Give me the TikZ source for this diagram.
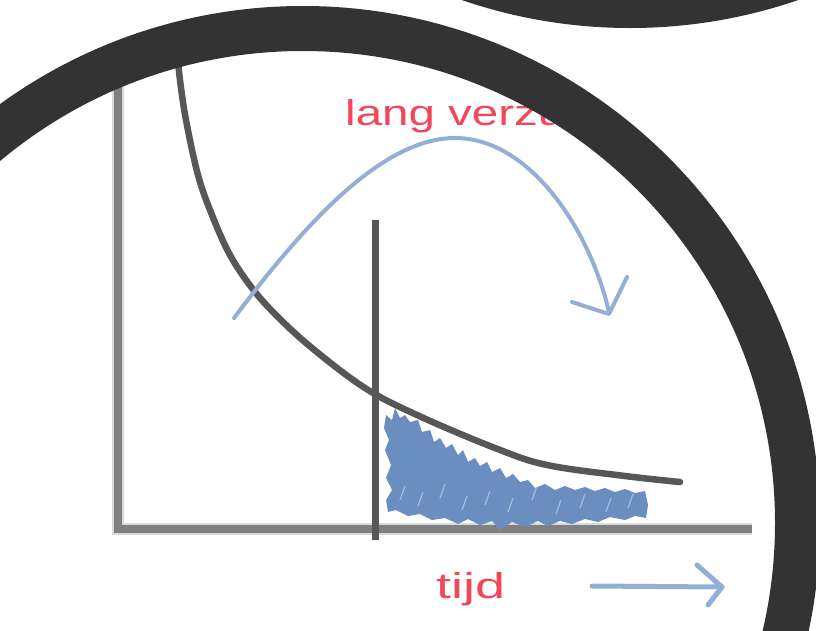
\documentclass[tikz,border=0pt]{standalone}
\usepackage{fontspec}
\usepackage{graphicx}
\newfontfamily\handfont{Liberation Sans}
\definecolor{ringc}{HTML}{333333}
\definecolor{axisc}{HTML}{808080}
\definecolor{curvec}{HTML}{575757}
\definecolor{scrib}{HTML}{6A8EC0}
\definecolor{arrowc}{HTML}{93AFD6}
\definecolor{textred}{HTML}{F04858}
\tikzset{
  ring/.style={draw=ringc, line width=45pt},
  axisline/.style={draw=axisc, line width=8pt},
  decay/.style={draw=curvec, line width=6.5pt, line cap=round},
  bluearrow/.style={draw=arrowc, line width=4pt, line cap=round, line join=round},
  redtext/.style={text=textred, inner sep=0pt, anchor=base west, font=\handfont\fontsize{36}{36}\selectfont}
}
\begin{document}
\begin{tikzpicture}[x=1pt,y=-1pt]
\useasboundingbox (0,0) rectangle (816,630);
\clip (0,0) rectangle (816,630);
% axes
\draw[draw=axisc!30, line width=12pt] (118,60) -- (118,529) -- (752,529);
\draw[axisline] (118,60) -- (118,529) -- (752,529);
% decay curve
\draw[decay] plot[smooth, tension=0.6] coordinates {(177,50) (180,80) (186,120) (198,175) (212,215) (230,255) (252,288) (276,315) (312,348) (365,388) (417,415) (495,448) (547,465) (625,476) (680,482)};
% vertical line
\draw[draw=curvec, line width=7pt] (375,220) -- (375,540);
% scribbled area
\fill[scrib] (384,428) -- (386,415) -- (392,420) -- (395,408) -- (400,418) -- (405,415) -- (410,422) -- (418,420) -- (422,432) -- (430,430) -- (434,442) -- (440,438) -- (446,448) -- (452,444) -- (458,455) -- (463,450) -- (468,462) -- (475,458) -- (480,466) -- (487,462) -- (492,472) -- (500,468) -- (506,478) -- (513,474) -- (520,482) -- (528,480) -- (535,488) -- (545,484) -- (555,490) -- (565,486) -- (575,490) -- (585,487) -- (595,491) -- (605,488) -- (615,492) -- (625,489) -- (635,493) -- (645,491) -- (648,505) -- (646,518) -- (635,516) -- (625,520) -- (610,517) -- (598,522) -- (585,519) -- (572,524) -- (560,521) -- (548,526) -- (538,521) -- (525,527) -- (512,522) -- (500,530) -- (492,521) -- (480,525) -- (468,519) -- (458,524) -- (445,518) -- (432,520) -- (420,514) -- (408,516) -- (396,510) -- (388,512) -- (386,500) -- (392,490) -- (386,478) -- (391,465) -- (385,450) -- (389,440) -- cycle;
\foreach \a/\b in {400/500,418/506,440/498,462/510,485/505,508/512,532/500,556/514,580/508,606/512,628/508}
  \draw[white, opacity=0.4, line width=1.2pt] (\a,\b) -- ++(5,-14);
% curved arrow
\draw[bluearrow] (234,318) .. controls (300,230) and (380,138) .. (455,138) .. controls (530,138) and (590,230) .. (609,312);
\draw[bluearrow] (572,302) -- (609,314) -- (627,277);
% time arrow
\draw[bluearrow, line width=5pt] (592,586) -- (722,587);
\draw[bluearrow, line width=5pt] (697,565) -- (722,587) -- (708,605);
% texts
\node[redtext] (lang) at (345,125) {\scalebox{1.32}[1]{lang verzuim}};
\node[redtext] (tijd) at (436,598) {\scalebox{1.5}[1]{tijd}};
% rings
\draw[ring] (303,523) circle[radius=494.5pt];
\draw[ring] (630,-489) circle[radius=494.5pt];
\end{tikzpicture}
\end{document}
